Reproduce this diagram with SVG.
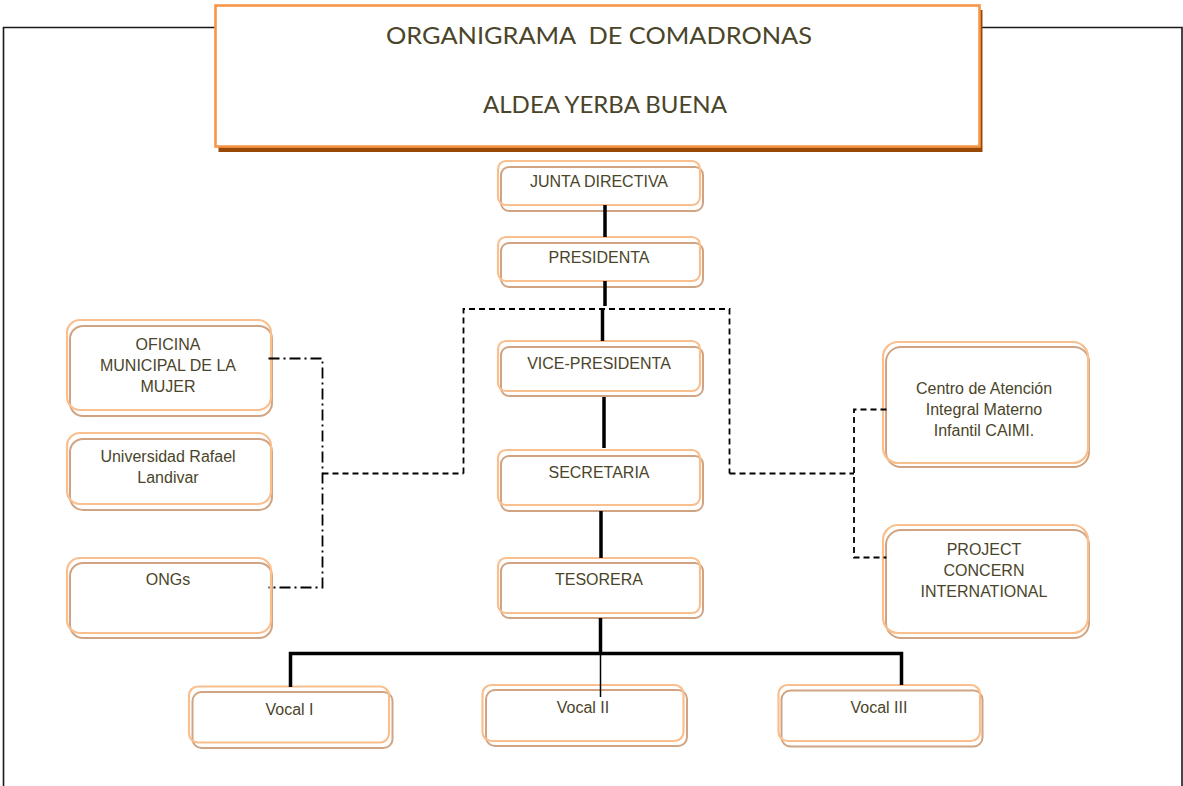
<svg xmlns="http://www.w3.org/2000/svg" width="1183" height="786" viewBox="0 0 1183 786">
<style>
.sh{fill:#fff;stroke:#D0A482;stroke-width:2}
.fr{fill:none;stroke:#FABF8F;stroke-width:2.2}
.t{font-family:"Liberation Sans",Arial,sans-serif;font-size:16px;fill:#4A452A;text-anchor:middle}
.tt{font-family:"Lato","Liberation Sans",sans-serif;font-size:24px;fill:#4A452A;text-anchor:middle;white-space:pre}
.s{stroke:#000;stroke-width:3.5;fill:none}
.d{stroke:#000;stroke-width:1.8;fill:none;stroke-dasharray:6 4}
.dd{stroke:#000;stroke-width:1.8;fill:none;stroke-dasharray:11 4 2 4}
</style>
<rect width="1183" height="786" fill="#fff"/>
<g id="frame" fill="none" stroke="#1a1a1a" stroke-width="1.6">
<polyline points="216,27.5 3.5,27.5 3.5,786"/>
<polyline points="980,27.5 1182,27.5 1182,786"/>
</g>
<g id="title">
<rect x="218.5" y="10" width="764" height="142" fill="#984807"/>
<rect x="215.5" y="5.5" width="764" height="141" fill="#fff" stroke="#F79646" stroke-width="2.6"/>
<text class="tt" x="599" y="44" textLength="426" lengthAdjust="spacingAndGlyphs" xml:space="preserve">ORGANIGRAMA  DE COMADRONAS</text>
<text class="tt" x="605" y="113" textLength="244" lengthAdjust="spacingAndGlyphs">ALDEA YERBA BUENA</text>
</g>
<g id="junta">
<rect class="sh" x="501" y="167" width="202" height="44" rx="8"/>
<rect class="fr" x="498" y="161" width="202" height="44" rx="8"/>
<text class="t" x="599" y="187">JUNTA DIRECTIVA</text>
</g>
<g id="presidenta">
<rect class="sh" x="501" y="243" width="202" height="44" rx="8"/>
<rect class="fr" x="498" y="237" width="202" height="44" rx="8"/>
<text class="t" x="599" y="263">PRESIDENTA</text>
</g>
<g id="vicepresidenta">
<rect class="sh" x="501" y="347" width="202" height="49" rx="8"/>
<rect class="fr" x="498" y="341" width="202" height="50" rx="8"/>
<text class="t" x="599" y="369">VICE-PRESIDENTA</text>
</g>
<g id="secretaria">
<rect class="sh" x="501" y="456" width="202" height="55" rx="8"/>
<rect class="fr" x="498" y="450" width="202" height="55" rx="8"/>
<text class="t" x="599" y="478">SECRETARIA</text>
</g>
<g id="tesorera">
<rect class="sh" x="501" y="563" width="202" height="55" rx="8"/>
<rect class="fr" x="498" y="558" width="202" height="55" rx="8"/>
<text class="t" x="599" y="585">TESORERA</text>
</g>
<g id="vocal1">
<rect class="sh" x="192.5" y="692" width="200" height="56" rx="9"/>
<rect class="fr" x="189" y="686.5" width="200" height="56" rx="9"/>
<text class="t" x="289.5" y="715">Vocal I</text>
</g>
<g id="vocal2">
<rect class="sh" x="486" y="690" width="201" height="56" rx="9"/>
<rect class="fr" x="482.5" y="685" width="201" height="56" rx="9"/>
<text class="t" x="583" y="713">Vocal II</text>
</g>
<g id="vocal3">
<rect class="sh" x="781.5" y="690.5" width="201" height="56" rx="9"/>
<rect class="fr" x="778.5" y="685" width="201.5" height="56" rx="9"/>
<text class="t" x="879" y="713">Vocal III</text>
</g>
<g id="oficina">
<rect class="sh" x="70" y="326" width="202" height="90" rx="13"/>
<rect class="fr" x="67" y="320" width="204" height="90" rx="13"/>
<text class="t" x="168" y="350">OFICINA</text>
<text class="t" x="168" y="371">MUNICIPAL DE LA</text>
<text class="t" x="168" y="392">MUJER</text>
</g>
<g id="universidad">
<rect class="sh" x="70" y="439" width="202" height="71" rx="13"/>
<rect class="fr" x="67" y="433" width="204" height="71" rx="13"/>
<text class="t" x="168" y="462">Universidad Rafael</text>
<text class="t" x="168" y="483">Landivar</text>
</g>
<g id="ongs">
<rect class="sh" x="70" y="563" width="202" height="75" rx="13"/>
<rect class="fr" x="67" y="558" width="204" height="75" rx="13"/>
<text class="t" x="168" y="585">ONGs</text>
</g>
<g id="caimi">
<rect class="sh" x="886" y="347" width="203" height="120" rx="15"/>
<rect class="fr" x="883" y="342" width="205" height="121" rx="15"/>
<text class="t" x="984" y="394">Centro de Atención</text>
<text class="t" x="984" y="415">Integral Materno</text>
<text class="t" x="984" y="436">Infantil CAIMI.</text>
</g>
<g id="pci">
<rect class="sh" x="886" y="530" width="203" height="108" rx="15"/>
<rect class="fr" x="883" y="525" width="205" height="108" rx="15"/>
<text class="t" x="984" y="555">PROJECT</text>
<text class="t" x="984" y="576">CONCERN</text>
<text class="t" x="984" y="597">INTERNATIONAL</text>
</g>
<g id="connectors">
<line class="s" x1="605" y1="205" x2="605" y2="237"/>
<line class="s" x1="605" y1="281" x2="605" y2="306"/>
<line class="s" x1="602.5" y1="310" x2="602.5" y2="341"/>
<line class="s" x1="604" y1="397" x2="604" y2="448"/>
<line class="s" x1="601" y1="511" x2="601" y2="558"/>
<line class="s" x1="600.5" y1="618" x2="600.5" y2="653"/>
<polyline class="s" points="290.5,687 290.5,653.5 901.5,653.5 901.5,685"/>
<line stroke="#000" stroke-width="1.5" x1="600.5" y1="653" x2="600.5" y2="697"/>
<polyline class="d" points="463.5,473.5 463.5,309 729.5,309 729.5,473.5"/>
<line class="d" x1="322.5" y1="473.5" x2="463.5" y2="473.5"/>
<line class="d" x1="729.5" y1="473.5" x2="854" y2="473.5"/>
<polyline class="d" points="886.5,409.5 854,409.5 854,557.5 886.5,557.5"/>
<polyline class="dd" points="268.5,358.5 322.5,358.5 322.5,587.5 268.5,587.5"/>
</g>
</svg>
